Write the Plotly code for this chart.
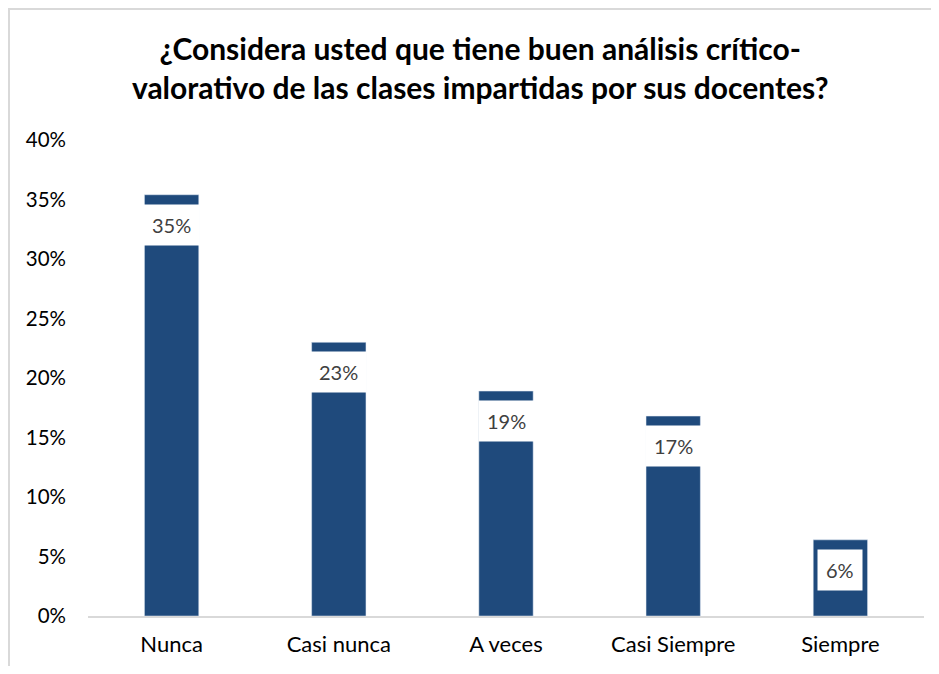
import plotly.graph_objects as go

categorias = ["Nunca", "Casi nunca", "A veces", "Casi Siempre", "Siempre"]
valores = [0.354, 0.230, 0.189, 0.168, 0.064]
etiquetas = ["35%", "23%", "19%", "17%", "6%"]
ticks = [0, 0.05, 0.10, 0.15, 0.20, 0.25, 0.30, 0.35, 0.40]

fuente = "Lato, Open Sans, sans-serif"

fig = go.Figure(go.Bar(x=categorias, y=valores, marker_color="#1F4A7C",
                       width=0.325, hoverinfo="x+y"))

# etiquetas con fondo blanco dentro de la barra
for c, v, t in zip(categorias, valores, etiquetas):
    fig.add_annotation(x=c, y=v, text=t, showarrow=False, yanchor="top", yshift=-9,
                       bgcolor="white", borderpad=8,
                       font=dict(family=fuente, size=20, color="#404040"))

# marco del gráfico
fig.add_shape(type="rect", xref="paper", yref="paper",
              x0=-0.0945, x1=1.12, y0=-0.16, y1=1.275,
              line=dict(color="#D9D9D9", width=2), layer="below")

fig.update_layout(
    title=dict(text="<b>¿Considera usted que tiene buen análisis crítico-<br>valorativo de las clases impartidas por sus docentes?</b>",
               x=0.5116, xanchor="center", y=0.921, yanchor="middle",
               font=dict(family=fuente, size=30, color="#000000")),
    width=923, height=658,
    margin=dict(l=80, r=7, t=132, b=50),
    paper_bgcolor="white", plot_bgcolor="white",
    font=dict(family=fuente, size=20, color="#000000"),
    showlegend=False,
    xaxis=dict(showline=True, linecolor="#D9D9D9", linewidth=2, ticks="",
               tickfont=dict(size=22), showgrid=False, ticklabelstandoff=8),
    yaxis=dict(range=[0, 0.40], tickvals=ticks, tickformat=".0%", showgrid=False,
               zeroline=False, ticks="", tickfont=dict(size=20.5), ticklabelstandoff=21),
)

fig.write_html("out.html")
